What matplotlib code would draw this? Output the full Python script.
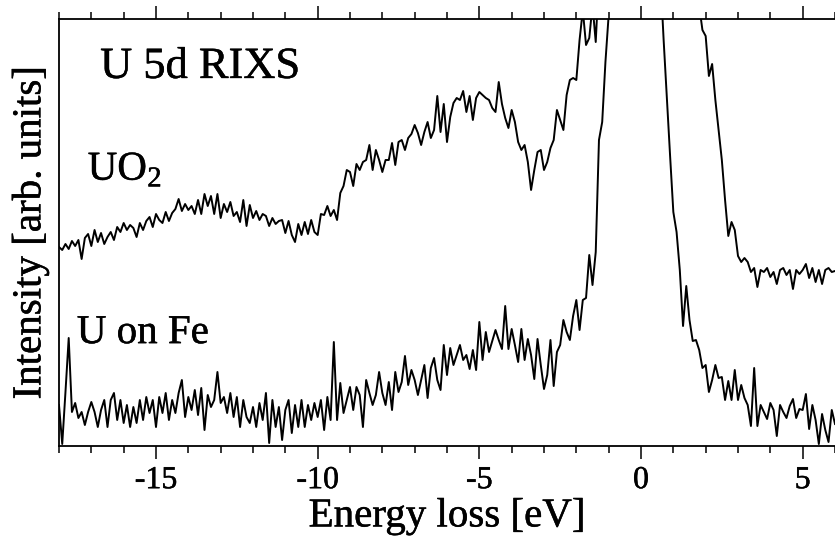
import numpy as np
import matplotlib
matplotlib.use("Agg")
import matplotlib.pyplot as plt
import matplotlib.patheffects as pe
from matplotlib.ticker import MultipleLocator

plt.rcParams['font.family'] = ['Liberation Serif', 'DejaVu Serif']
plt.rcParams['mathtext.fontset'] = 'custom'
plt.rcParams['mathtext.rm'] = 'Liberation Serif'
plt.rcParams['axes.unicode_minus'] = False

# Energy-loss axis of the spectra (eV), 0.1 eV sampling
energy = np.round(np.arange(-18.0, 6.0 + 0.05, 0.1), 1)

# UO2 spectrum (arb. units)
uo2 = [
    199, 196, 202, 197, 205, 200, 206, 187, 208, 212, 200,
    216, 204, 213, 202, 209, 214, 206, 219, 214, 223,
    216, 221, 218, 209, 223, 216, 225, 229, 219, 232,
    226, 223, 234, 225, 233, 237, 247, 235, 242, 236,
    240, 232, 246, 232, 252, 240, 250, 232, 252, 228,
    242, 234, 244, 230, 234, 224, 246, 220, 241, 228,
    235, 226, 232, 230, 220, 228, 222, 225, 226, 213,
    225, 211, 204, 222, 211, 224, 212, 226, 214, 211,
    232, 231, 240, 230, 236, 226, 253, 260, 276, 274,
    260, 282, 276, 284, 286, 301, 276, 296, 286, 274,
    286, 286, 303, 281, 304, 306, 296, 308, 312, 321,
    313, 301, 314, 324, 308, 316, 350, 314, 342, 304,
    329, 343, 348, 346, 355, 334, 350, 326, 348, 354,
    351, 348, 346, 338, 334, 364, 342, 328, 318, 336,
    324, 304, 296, 301, 284, 256, 276, 294, 296, 276,
    284, 298, 306, 336, 326, 316, 351, 366, 368, 366,
    406, 436, 401, 408, 441, 404, 470, 500, 540, 590,
    640, 700, 760, 830, 900, 970, 1040, 1100, 1150, 1180,
    1170, 1130, 1070, 1000, 920, 840, 770, 700, 650, 610,
    580, 550, 530, 510, 490, 470, 455, 440, 416, 410,
    370, 382, 346, 316, 286, 246, 210, 224, 216, 190,
    184, 188, 184, 174, 178, 159, 176, 174, 178, 169,
    174, 162, 176, 178, 171, 176, 157, 176, 172, 176,
    182, 168, 178, 164, 176, 162, 176, 178, 174, 175,
]

# U on Fe spectrum (arb. units)
u_on_fe = [
    41, 2, 54, 108, 34, 43, 28, 34, 21, 34, 44,
    34, 19, 36, 46, 19, 46, 53, 26, 46, 23,
    41, 19, 39, 23, 46, 26, 49, 33, 46, 19,
    49, 33, 53, 26, 46, 33, 53, 66, 29, 49,
    36, 56, 31, 58, 16, 51, 39, 46, 74, 43,
    49, 33, 53, 29, 49, 19, 46, 29, 23, 39,
    19, 43, 26, 53, 3, 46, 19, 39, 6, 36,
    46, 13, 41, 19, 46, 19, 41, 26, 43, 29,
    46, 16, 49, 26, 104, 26, 63, 33, 46, 59,
    36, 59, 51, 19, 66, 53, 41, 51, 74, 53,
    41, 64, 36, 74, 54, 64, 90, 61, 76, 66,
    51, 66, 81, 48, 78, 88, 66, 56, 101, 71,
    98, 81, 91, 101, 86, 91, 77, 96, 76, 124,
    86, 114, 94, 105, 116, 106, 97, 140, 97, 117,
    101, 84, 117, 86, 107, 91, 67, 107, 81, 57,
    71, 106, 60, 94, 101, 126, 114, 106, 130, 146,
    116, 146, 148, 191, 161, 194, 306, 324, 384, 431,
    470, 540, 620, 720, 820, 920, 1000, 1060, 1100, 1100,
    1080, 1020, 900, 760, 620, 470, 406, 347, 290, 234,
    214, 176, 120, 160, 126, 105, 106, 96, 78, 81,
    54, 66, 81, 68, 69, 46, 65, 46, 76, 46,
    61, 48, 41, 20, 78, 20, 41, 34, 27, 43,
    36, 10, 41, 34, 28, 40, 47, 28, 37, 36,
    52, 17, 41, 26, 2, 32, 16, 4, 36, 22,
]

assert len(uo2) == len(energy) and len(u_on_fe) == len(energy)

xticks_major = [-15, -10, -5, 0, 5]

# slight stroke so the serif glyphs print with a heavier weight
heavy = [pe.withStroke(linewidth=0.35, foreground='black')]

fig = plt.figure(figsize=(8.35, 5.49), dpi=100)
ax = fig.add_axes([59 / 835, 103 / 549, 776 / 835, 427 / 549])

ax.plot(energy, uo2, color='black', lw=1.4)
ax.plot(energy, u_on_fe, color='black', lw=1.4)

ax.set_xlim(-18, 6)
ax.set_ylim(0, 427)
ax.spines['right'].set_visible(False)
for s in ax.spines.values():
    s.set_linewidth(1.3)

ax.set_xticks(xticks_major)
ax.xaxis.set_minor_locator(MultipleLocator(1))
ax.tick_params(axis='x', which='both', direction='out', top=True, bottom=True,
               labeltop=False, width=1.1)
ax.tick_params(axis='x', which='major', length=9.5, labelsize=23, pad=5)
ax.tick_params(axis='x', which='minor', length=5)
ax.set_yticks([])
for lbl in ax.get_xticklabels():
    lbl.set_path_effects(heavy)

ax.set_xlabel('Energy loss [eV]', fontsize=29.5, labelpad=2, path_effects=heavy)
ax.set_ylabel('Intensity [arb. units]', fontsize=29.5, labelpad=7, path_effects=heavy)

ax.text(0.053, 0.862, 'U 5d RIXS', transform=ax.transAxes, fontsize=32,
        ha='left', va='baseline', path_effects=heavy)
ax.text(0.037, 0.623, r'UO$_\mathrm{2}$', transform=ax.transAxes, fontsize=29.5,
        ha='left', va='baseline', path_effects=heavy)
ax.text(0.023, 0.241, 'U on Fe', transform=ax.transAxes, fontsize=29.5,
        ha='left', va='baseline', path_effects=heavy)

fig.savefig('out.png', dpi=100)
